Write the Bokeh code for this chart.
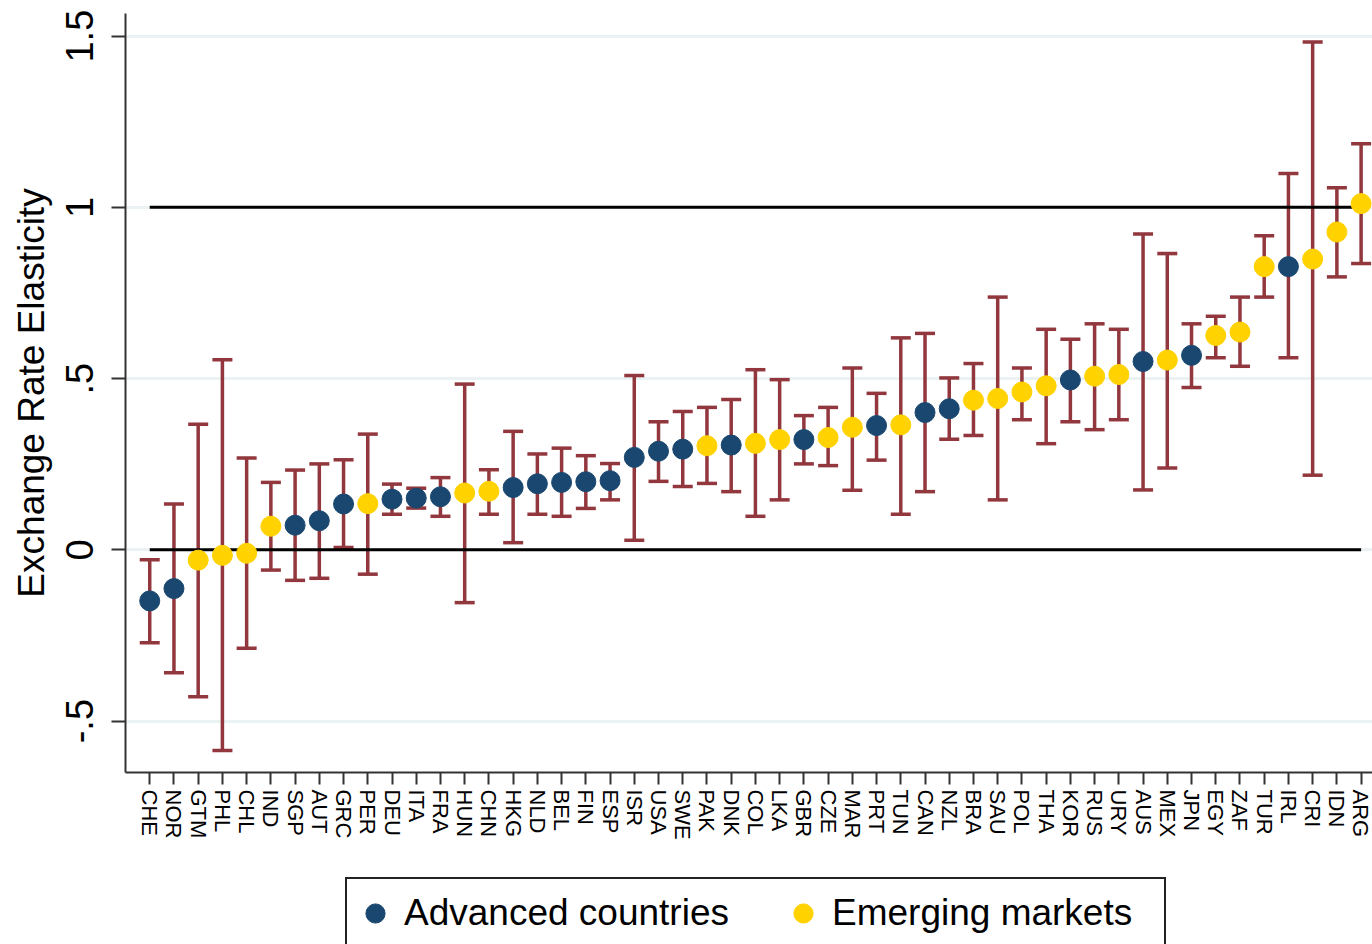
from bokeh.plotting import figure
from bokeh.layouts import column
from bokeh.models import (ColumnDataSource, Range1d, FixedTicker, Whisker, TeeHead,
                          Legend, LegendItem)
from bokeh.embed import file_html
from bokeh.resources import INLINE

countries = ["CHE", "NOR", "GTM", "PHL", "CHL", "IND", "SGP", "AUT", "GRC", "PER",
             "DEU", "ITA", "FRA", "HUN", "CHN", "HKG", "NLD", "BEL", "FIN", "ESP",
             "ISR", "USA", "SWE", "PAK", "DNK", "COL", "LKA", "GBR", "CZE", "MAR",
             "PRT", "TUN", "CAN", "NZL", "BRA", "SAU", "POL", "THA", "KOR", "RUS",
             "URY", "AUS", "MEX", "JPN", "EGY", "ZAF", "TUR", "IRL", "CRI", "IDN", "ARG"]

# 1 = Advanced countries, 0 = Emerging markets
advanced = [1, 1, 0, 0, 0, 0, 1, 1, 1, 0,
            1, 1, 1, 0, 0, 1, 1, 1, 1, 1,
            1, 1, 1, 0, 1, 0, 0, 1, 0, 0,
            1, 0, 1, 1, 0, 0, 0, 0, 1, 0,
            0, 1, 0, 1, 0, 0, 0, 1, 0, 0, 0]

elasticity = [-0.149, -0.113, -0.030, -0.016, -0.010, 0.069, 0.072, 0.085, 0.134, 0.135,
              0.148, 0.151, 0.155, 0.166, 0.171, 0.182, 0.193, 0.197, 0.199, 0.202,
              0.270, 0.288, 0.294, 0.304, 0.306, 0.311, 0.322, 0.322, 0.328, 0.358,
              0.363, 0.365, 0.401, 0.412, 0.437, 0.442, 0.461, 0.479, 0.496, 0.507,
              0.512, 0.550, 0.554, 0.568, 0.626, 0.636, 0.827, 0.827, 0.849, 0.928, 1.011]

ci_low = [-0.271, -0.359, -0.429, -0.586, -0.287, -0.059, -0.089, -0.083, 0.007, -0.071,
          0.104, 0.122, 0.098, -0.154, 0.104, 0.021, 0.104, 0.098, 0.121, 0.146,
          0.028, 0.200, 0.185, 0.194, 0.170, 0.098, 0.146, 0.251, 0.246, 0.174,
          0.262, 0.104, 0.170, 0.323, 0.334, 0.146, 0.380, 0.310, 0.374, 0.351,
          0.380, 0.175, 0.239, 0.474, 0.561, 0.536, 0.738, 0.561, 0.218, 0.797, 0.836]

ci_high = [-0.029, 0.134, 0.367, 0.555, 0.268, 0.197, 0.233, 0.251, 0.263, 0.338,
           0.192, 0.180, 0.211, 0.484, 0.234, 0.346, 0.280, 0.297, 0.275, 0.252,
           0.509, 0.374, 0.404, 0.416, 0.439, 0.526, 0.497, 0.392, 0.416, 0.531,
           0.457, 0.619, 0.632, 0.502, 0.544, 0.738, 0.531, 0.644, 0.615, 0.660,
           0.644, 0.922, 0.865, 0.660, 0.682, 0.738, 0.917, 1.099, 1.483, 1.057, 1.186]

y_ticks = [-0.5, 0, 0.5, 1, 1.5]
y_tick_labels = ["-.5", "0", ".5", "1", "1.5"]
ref_values = [0, 1]
group_labels = ["Advanced countries", "Emerging markets"]

NAVY = "#1a476f"
GOLD = "#ffd200"
BAR = "#91373d"
FONT = "Liberation Sans"

idx = list(range(len(countries)))

p = figure(width=1372, height=870, output_backend="svg", toolbar_location=None,
           x_range=Range1d(-1.0, 50.47), y_range=Range1d(-0.650, 1.566),
           min_border_left=125, min_border_right=0, min_border_top=13,
           min_border_bottom=98)
p.outline_line_color = None
p.background_fill_color = "white"
p.border_fill_color = "white"

# grid
p.xgrid.grid_line_color = None
p.ygrid.ticker = FixedTicker(ticks=y_ticks)
p.ygrid.grid_line_color = "#eaf2f3"
p.ygrid.grid_line_width = 3

# axes
p.xaxis.ticker = FixedTicker(ticks=idx)
p.xaxis.major_label_overrides = {i: c for i, c in zip(idx, countries)}
p.xaxis.major_label_orientation = "vertical"
p.xaxis.major_label_text_font = FONT
p.xaxis.major_label_text_font_size = "22px"
p.xaxis.major_label_text_color = "black"
p.xaxis.major_label_standoff = 5
p.xaxis.major_tick_out = 12
p.xaxis.major_tick_in = 0
p.xaxis.minor_tick_line_color = None

p.yaxis.ticker = FixedTicker(ticks=y_ticks)
p.yaxis.major_label_overrides = {t: l for t, l in zip(y_ticks, y_tick_labels)}
p.yaxis.major_label_orientation = "vertical"
p.yaxis.major_label_text_font = FONT
p.yaxis.major_label_text_font_size = "38px"
p.yaxis.major_label_text_color = "black"
p.yaxis.major_label_standoff = 18
p.yaxis.major_tick_out = 14
p.yaxis.major_tick_in = 0
p.yaxis.minor_tick_line_color = None
p.yaxis.axis_label = "Exchange Rate Elasticity"
p.yaxis.axis_label_text_font = FONT
p.yaxis.axis_label_text_font_size = "37px"
p.yaxis.axis_label_text_font_style = "normal"
p.yaxis.axis_label_text_color = "black"
p.yaxis.axis_label_standoff = 12

for ax in (p.xaxis, p.yaxis):
    ax.axis_line_color = "#333333"
    ax.axis_line_width = 2
    ax.major_tick_line_color = "#333333"
    ax.major_tick_line_width = 2

# error bars
src_all = ColumnDataSource(dict(x=idx, y=elasticity, lo=ci_low, hi=ci_high))
wh = Whisker(source=src_all, base="x", lower="lo", upper="hi", dimension="height",
             line_color=BAR, line_width=3.5, level="underlay",
             upper_head=TeeHead(size=20, line_color=BAR, line_width=3.5),
             lower_head=TeeHead(size=20, line_color=BAR, line_width=3.5))
p.add_layout(wh)

# reference lines at 0 and 1, spanning the countries
p.segment(x0=[idx[0]] * len(ref_values), x1=[idx[-1]] * len(ref_values),
          y0=ref_values, y1=ref_values, line_color="black", line_width=3)

# points
colors = [NAVY, GOLD]
flags = [1, 0]
group_sources = []
for flag, color in zip(flags, colors):
    sel = [i for i in idx if advanced[i] == flag]
    src = ColumnDataSource(dict(x=sel, y=[elasticity[i] for i in sel]))
    group_sources.append(src)
    p.scatter("x", "y", source=src, size=20, fill_color=color, line_color=color)

# legend strip below the plot (its own renderers sit outside its visible range)
lg = figure(width=1372, height=74, output_backend="svg", toolbar_location=None,
            x_range=Range1d(-3, -2), y_range=Range1d(-3, -2),
            x_axis_location=None, y_axis_location=None,
            min_border_left=0, min_border_right=0, min_border_top=0,
            min_border_bottom=0)
lg.outline_line_color = None
lg.xgrid.grid_line_color = None
lg.ygrid.grid_line_color = None
lg_renderers = [lg.scatter("x", "y", source=s, size=20, fill_color=c, line_color=c)
                for s, c in zip(group_sources, colors)]
legend = Legend(items=[LegendItem(label=lab, renderers=[r])
                       for lab, r in zip(group_labels, lg_renderers)],
                orientation="horizontal", location=(220, -5),
                padding=4, spacing=47, margin=0,
                glyph_width=48, glyph_height=60, label_height=60,
                label_width=328, label_standoff=5,
                label_text_font=FONT, label_text_font_size="37px",
                label_text_color="black",
                border_line_color="#222222", border_line_width=2,
                border_line_alpha=1.0,
                background_fill_color="white", background_fill_alpha=1)
lg.add_layout(legend, "center")

layout = column(p, lg, spacing=0)
open("out.html", "w").write(file_html(layout, INLINE))
